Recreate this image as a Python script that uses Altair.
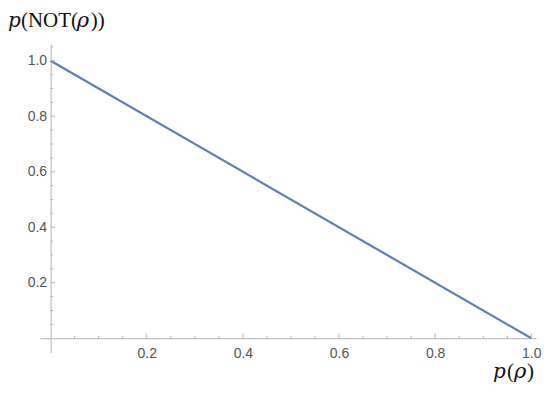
import altair as alt
import pandas as pd

# data
p_rho = [0.0, 1.0]
p_not = [1.0, 0.0]
x_ticks = [round(0.05 * i, 2) for i in range(1, 21)]
y_ticks = [round(0.05 * i, 2) for i in range(1, 22)]

df = pd.DataFrame({"p": p_rho, "q": p_not})

W, H = 497, 309
xdom = [-0.0222, 1.0098]
ydom = [-0.0522, 1.0594]
x_axis_off = -(0 - ydom[0]) / (ydom[1] - ydom[0]) * H
y_axis_off = -(0 - xdom[0]) / (xdom[1] - xdom[0]) * W

label_expr = "(abs(datum.value*5 - round(datum.value*5)) < 1e-6) ? format(datum.value, '.1f') : ''"

AX = "#b3b3b3"
LAB = "#555555"

xs = alt.Scale(domain=xdom, nice=False, zero=False)
ys = alt.Scale(domain=ydom, nice=False, zero=False)

ax_x = alt.Axis(values=x_ticks, labelExpr=label_expr, title=None, grid=False,
                domainColor=AX, domainWidth=1, ticks=False,
                labelPadding=8, labelFont="Liberation Sans", labelFontSize=14,
                labelColor=LAB, offset=x_axis_off, labelFlush=False)
ax_y = alt.Axis(values=y_ticks, labelExpr=label_expr, title=None, grid=False,
                domainColor=AX, domainWidth=1, ticks=False,
                labelPadding=4, labelFont="Liberation Sans", labelFontSize=14,
                labelColor=LAB, offset=y_axis_off, labelFlush=False)

line = alt.Chart(df).mark_line(color="#5E81B5", strokeWidth=2.2, clip=False).encode(
    x=alt.X("p:Q", scale=xs, axis=ax_x),
    y=alt.Y("q:Q", scale=ys, axis=ax_y),
)

tx = pd.DataFrame({"v": x_ticks})
tx["major"] = [abs(v * 5 - round(v * 5)) < 1e-6 for v in x_ticks]
ty = pd.DataFrame({"v": y_ticks})
ty["major"] = [abs(v * 5 - round(v * 5)) < 1e-6 for v in y_ticks]

def xtick_layer(major, size):
    return alt.Chart(tx[tx.major == major]).mark_rule(color=AX, strokeWidth=1, y2Offset=-size).encode(
        x=alt.X("v:Q", scale=xs, axis=ax_x),
        y=alt.YDatum(0, scale=ys, axis=ax_y), y2=alt.datum(0))

def ytick_layer(major, size):
    return alt.Chart(ty[ty.major == major]).mark_rule(color=AX, strokeWidth=1, x2Offset=size).encode(
        y=alt.Y("v:Q", scale=ys, axis=ax_y),
        x=alt.XDatum(0, scale=xs, axis=ax_x), x2=alt.datum(0))

ticks = [xtick_layer(True, 4.5), xtick_layer(False, 2.5), ytick_layer(True, 4.5), ytick_layer(False, 2.5)]

def txt(s, x, y, italic, font="Liberation Serif", size=21):
    return alt.Chart(df.head(1)).mark_text(
        text=s, align="left", baseline="alphabetic", font=font,
        fontSize=size, fontStyle="italic" if italic else "normal", color="#111111",
    ).encode(x=alt.value(x), y=alt.value(y))

OX, OY = 40, 44
title_parts = [
    txt("p", 8 - OX, 27 - OY, True, "DejaVu Serif", 20),
    txt("(NOT(", 21 - OX, 27 - OY, False),
    txt("ρ", 77 - OX, 27 - OY, True, "DejaVu Serif", 21),
    txt("))", 91 - OX, 27 - OY, False),
]
xt_parts = [
    txt("p", 494 - OX, 378 - OY, True, "DejaVu Serif", 20),
    txt("(", 508 - OX, 378 - OY, False),
    txt("ρ", 515 - OX, 378 - OY, True, "DejaVu Serif", 21),
    txt(")", 528 - OX, 378 - OY, False),
]

chart = alt.layer(line, *ticks, *title_parts, *xt_parts).properties(
    width=W, height=H,
    autosize=alt.AutoSizeParams(type="none"),
    padding={"left": OX - 8, "top": OY - 8, "right": 6, "bottom": 40},
).configure(background="white").configure_view(stroke=None, strokeWidth=0)

chart.save("out.html", embed_options={"renderer": "svg", "actions": False})
